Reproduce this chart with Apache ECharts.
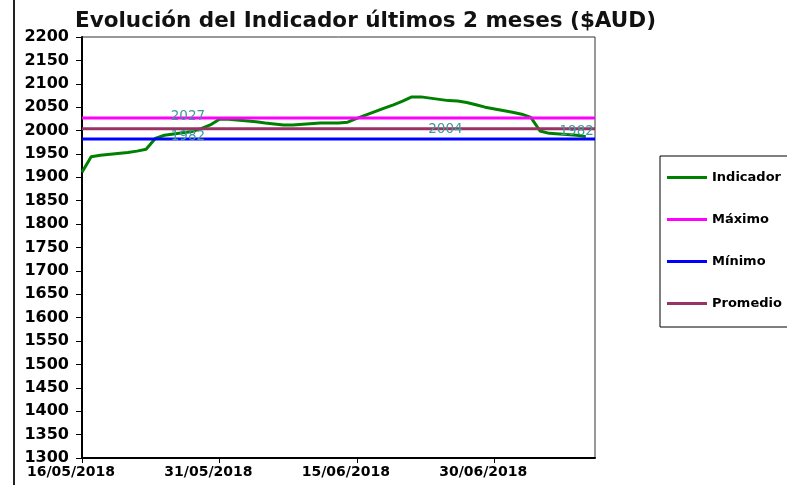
<!DOCTYPE html>
<html>
<head>
<meta charset="utf-8">
<script src="https://cdn.jsdelivr.net/npm/echarts@6/dist/echarts.min.js"></script>
<style>
html, body { margin: 0; padding: 0; background: #fff; }
#chart { width: 787px; height: 485px; }
</style>
</head>
<body>
<div id="chart"></div>
<script>
// fechas (dias habiles) y valores del indicador
var fechas = ['16/05/2018','17/05/2018','18/05/2018','21/05/2018','22/05/2018','23/05/2018','24/05/2018','25/05/2018',
    '28/05/2018','29/05/2018','30/05/2018','31/05/2018','01/06/2018','04/06/2018','05/06/2018','06/06/2018',
    '07/06/2018','08/06/2018','11/06/2018','12/06/2018','13/06/2018','14/06/2018','15/06/2018','18/06/2018',
    '19/06/2018','20/06/2018','21/06/2018','22/06/2018','25/06/2018','26/06/2018','27/06/2018','28/06/2018',
    '29/06/2018','02/07/2018','03/07/2018','04/07/2018','05/07/2018','06/07/2018','09/07/2018','10/07/2018'];
var indicador = [1911, 1944, 1947, 1953, 1956, 1960, 1983, 1990,
    1998, 2004, 2012, 2024, 2024, 2019, 2016, 2014,
    2012, 2012, 2016, 2016, 2016, 2018, 2026, 2048,
    2055, 2063, 2072, 2072, 2064, 2063, 2060, 2055,
    2050, 2039, 2035, 2028, 1999, 1994, 1990, 1987];
var maximo = 2027;
var minimo = 1982;
var promedio = 2004;
// donde aparecen las etiquetas de las lineas constantes
var fechaEtiquetaMaxMin = '28/05/2018';
var fechaEtiquetaProm = '25/06/2018';
var fechaEtiquetaFin = '09/07/2018';
var fechaInicio = '16/05/2018';
var fechaFin = '11/07/2018';
var ticksX = ['16/05/2018', '31/05/2018', '15/06/2018', '30/06/2018'];

function parseFecha(s) {
    var p = s.split('/');
    return Date.UTC(+p[2], +p[1] - 1, +p[0]);
}
var base = parseFecha(fechaInicio);
function dia(s) {
    return Math.round((parseFecha(s) - base) / 86400000);
}
function fmtFecha(v) {
    var d = new Date(base + v * 86400000);
    var dd = ('0' + d.getUTCDate()).slice(-2), mm = ('0' + (d.getUTCMonth() + 1)).slice(-2);
    return dd + '/' + mm + '/' + d.getUTCFullYear();
}
var diasTicks = ticksX.map(dia);
var diaFin = dia(fechaFin);

var etiqueta = function (off) {
    return {show: true, position: 'top', distance: 0, offset: off,
        color: '#3f9a9a', fontFamily: 'DejaVu Sans', fontSize: 13.5,
        formatter: function (p) { return p.value[1]; }};
};
// linea constante con puntos invisibles que llevan la etiqueta
function constante(v, puntos) {
    var data = [[0, v]];
    puntos.forEach(function (pt) {
        data.push({value: [dia(pt.fecha), v], symbol: 'circle', symbolSize: 1,
            itemStyle: {color: 'rgba(0,0,0,0)', borderWidth: 0}, label: etiqueta(pt.off)});
    });
    data.push([diaFin, v]);
    return data;
}

var chart = echarts.init(document.getElementById('chart'));
var lbl = {fontFamily: 'DejaVu Sans', fontWeight: 'bold', color: '#000'};
chart.setOption({
    animation: false,
    backgroundColor: '#fff',
    title: {
        text: 'Evolución del Indicador últimos 2 meses ($AUD)',
        left: 70, top: 5,
        textStyle: {fontFamily: 'DejaVu Sans', fontWeight: 'bold', fontSize: 21.5, color: '#111'}
    },
    graphic: [{type: 'line', shape: {x1: 14, y1: 0, x2: 14, y2: 485}, style: {stroke: '#222', lineWidth: 2}}],
    legend: {
        orient: 'vertical', left: 660, top: 156,
        padding: [14, 40, 16, 7], itemGap: 27, itemWidth: 40, itemHeight: 3, icon: 'rect',
        borderColor: '#000', borderWidth: 1, selectedMode: false,
        textStyle: {fontFamily: 'DejaVu Sans', fontWeight: 'bold', fontSize: 13, lineHeight: 15, color: '#000'},
        data: ['Indicador', 'Máximo', 'Mínimo', 'Promedio']
    },
    grid: {left: 82, right: 192, top: 37, bottom: 27, show: true, borderColor: '#333', borderWidth: 1},
    xAxis: {
        type: 'value', min: 0, max: diaFin, interval: 15,
        splitLine: {show: false},
        axisLine: {lineStyle: {color: '#000', width: 2}},
        axisTick: {lineStyle: {color: '#000'}, length: 5},
        axisLabel: Object.assign({fontSize: 14, margin: 7, padding: [0, 22, 0, 0], showMaxLabel: false,
            formatter: function (v) { return diasTicks.indexOf(v) >= 0 ? fmtFecha(v) : ''; }}, lbl)
    },
    yAxis: {
        type: 'value', min: 1300, max: 2200, interval: 50,
        splitLine: {show: false},
        axisLine: {show: true, lineStyle: {color: '#000', width: 2}},
        axisTick: {show: true, lineStyle: {color: '#000'}, length: 6},
        axisLabel: Object.assign({fontSize: 16, margin: 13, formatter: function (v) { return String(v); }}, lbl)
    },
    series: [
        {name: 'Indicador', type: 'line', symbol: 'none', color: '#008000', lineStyle: {width: 3},
            data: fechas.map(function (f, i) { return [dia(f), indicador[i]]; })},
        {name: 'Máximo', type: 'line', symbol: 'none', color: '#ff00ff', lineStyle: {width: 3},
            data: constante(maximo, [{fecha: fechaEtiquetaMaxMin, off: [-4, 6]}])},
        {name: 'Mínimo', type: 'line', symbol: 'none', color: '#0000ff', lineStyle: {width: 3},
            data: constante(minimo, [{fecha: fechaEtiquetaMaxMin, off: [-4, 5]}, {fecha: fechaEtiquetaFin, off: [0, 0]}])},
        {name: 'Promedio', type: 'line', symbol: 'none', color: '#993366', lineStyle: {width: 3},
            data: constante(promedio, [{fecha: fechaEtiquetaProm, off: [-3, 8]}])}
    ]
});
</script>
</body>
</html>
